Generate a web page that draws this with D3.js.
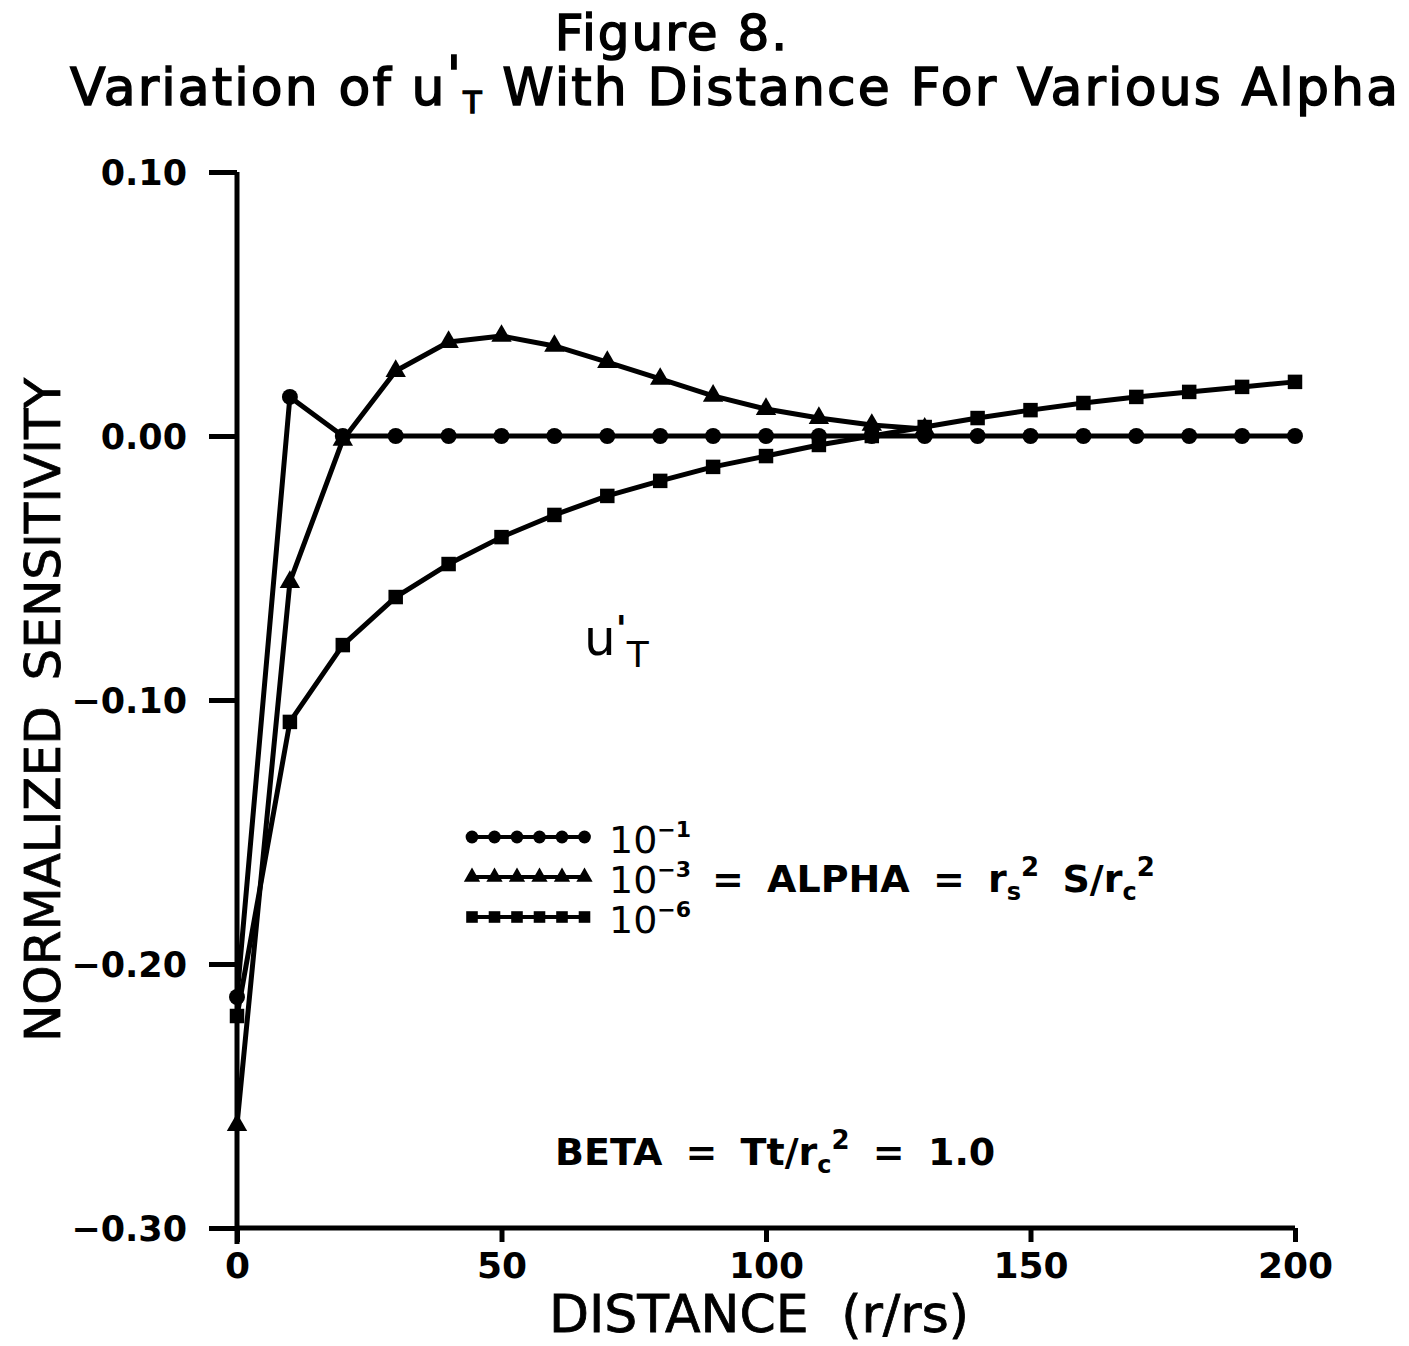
<!DOCTYPE html>
<html>
<head>
<meta charset="utf-8">
<script src="https://cdn.jsdelivr.net/npm/d3@7"></script>
<style>
  body { margin: 0; background: #fff; }
  svg text { font-family: "DejaVu Sans", Verdana, sans-serif; fill: #000; }
</style>
</head>
<body>
<svg width="1409" height="1346"></svg>
<script>
// distance values (r/rs)
let distance = [0, 10, 20, 30, 40, 50, 60, 70, 80, 90, 100, 110, 120, 130, 140, 150, 160, 170, 180, 190, 200];

// alpha = 10^-1
let alpha1 = [-0.2125, 0.0148, 0, 0, 0, 0, 0, 0, 0, 0, 0, 0, 0, 0, 0, 0, 0, 0, 0, 0, 0];
// alpha = 10^-3 (merges into the zero line after 130)
let alpha3 = [-0.261, -0.0553, -0.0015, 0.0246, 0.0356, 0.0379, 0.0341, 0.028, 0.0216, 0.0152, 0.0102, 0.0068, 0.0042, 0.0027];
// alpha = 10^-6
let alpha6 = [-0.2197, -0.1083, -0.0792, -0.061, -0.0485, -0.0383, -0.0299, -0.0227, -0.017, -0.0117, -0.0076, -0.0034, 0.0, 0.0034, 0.0068, 0.0098, 0.0125, 0.0148, 0.0167, 0.0186, 0.0205];

let xTicks = [0, 50, 100, 150, 200];
let yTicks = [0.10, 0.00, -0.10, -0.20, -0.30];

let svg = d3.select('svg');

const xScale = d3.scaleLinear().domain([0, 200]).range([237, 1295]);
const yScale = d3.scaleLinear().domain([-0.30, 0.10]).range([1228, 172]);

// axes
svg.append('g')
  .attr('transform', 'translate(237, 0)')
  .call(d3.axisLeft(yScale).tickValues(yTicks).tickSize(28))
  .call(g => g.select('.domain').attr('d', 'M0,172V1244').attr('stroke-width', 5))
  .call(g => g.selectAll('.tick line').attr('stroke-width', 5))
  .call(g => g.selectAll('.tick text')
    .attr('x', -50).attr('dy', '0.36em')
    .attr('font-size', 35).attr('font-weight', 'bold')
    .attr('font-family', '"DejaVu Sans", sans-serif')
    .text(d => d3.format('.2f')(d).replace('-', '\u2212')));

svg.append('g')
  .attr('transform', 'translate(0, 1228)')
  .call(d3.axisBottom(xScale).tickValues(xTicks).tickSize(14))
  .call(g => g.select('.domain').attr('d', 'M237,0H1295').attr('stroke-width', 5))
  .call(g => g.selectAll('.tick line').attr('stroke-width', 5))
  .call(g => g.selectAll('.tick text')
    .attr('y', 24)
    .attr('font-size', 36).attr('font-weight', 'bold')
    .attr('font-family', '"DejaVu Sans", sans-serif'));

// series
let series = [
  {values: alpha3, shape: 'triangle'},
  {values: alpha6, shape: 'square'},
  {values: alpha1, shape: 'circle'}
];

const symbols = {
  circle: d3.symbol().type(d3.symbolCircle).size(200),
  triangle: d3.symbol().type(d3.symbolTriangle).size(180),
  square: d3.symbol().type(d3.symbolSquare).size(210)
};

const line = d3.line()
  .x(d => xScale(d[0]))
  .y(d => yScale(d[1]));

series.forEach(s => {
  let pts = s.values.map((v, i) => [distance[i], v]);
  svg.append('path')
    .datum(pts)
    .attr('d', line)
    .attr('fill', 'none')
    .attr('stroke', '#000')
    .attr('stroke-width', 5)
    .attr('stroke-linejoin', 'round');
  svg.selectAll(null)
    .data(pts)
    .enter()
    .append('path')
    .attr('d', symbols[s.shape])
    .attr('transform', d => `translate(${xScale(d[0])}, ${yScale(d[1])})`)
    .attr('fill', '#000');
});

// legend
let legendRows = [
  {shape: 'circle', exp: '\u22121', y: 837},
  {shape: 'triangle', exp: '\u22123', y: 877},
  {shape: 'square', exp: '\u22126', y: 917}
];
legendRows.forEach(r => {
  svg.append('line')
    .attr('x1', 470).attr('x2', 585)
    .attr('y1', r.y).attr('y2', r.y)
    .attr('stroke', '#000').attr('stroke-width', 4);
  d3.range(6).forEach(k => {
    svg.append('path')
      .attr('d', symbols[r.shape])
      .attr('fill', '#000')
      .attr('transform', `translate(${472 + k * 22.5}, ${r.y}) scale(0.8)`);
  });
  let t = svg.append('text')
    .attr('x', 609).attr('y', r.y + 16)
    .attr('font-size', 38);
  t.append('tspan').text('10');
  t.append('tspan').attr('dy', -16).attr('font-size', 22).attr('font-weight', 'bold').text(r.exp);
});

let alphaText = svg.append('text')
  .attr('x', 712).attr('y', 892)
  .attr('font-size', 38).attr('font-weight', 'bold')
  .attr('word-spacing', 10);
alphaText.append('tspan').text('=  ALPHA  =  r');
alphaText.append('tspan').attr('dy', 8).attr('font-size', 24).text('s');
alphaText.append('tspan').attr('dy', -24).attr('font-size', 26).text('2');
alphaText.append('tspan').attr('dy', 16).text('  S/r');
alphaText.append('tspan').attr('dy', 8).attr('font-size', 24).text('c');
alphaText.append('tspan').attr('dy', -24).attr('font-size', 26).text('2');

// annotations
let ut = svg.append('text')
  .attr('x', 584).attr('y', 655)
  .attr('font-size', 50);
ut.append('tspan').text('u');
ut.append('tspan').attr('dy', -14).attr('font-size', 36).attr('font-weight', 'bold').text('\'');
ut.append('tspan').attr('dy', 26).attr('font-size', 36).text('T');

let beta = svg.append('text')
  .attr('x', 555).attr('y', 1165)
  .attr('font-size', 38).attr('font-weight', 'bold')
  .attr('word-spacing', 10);
beta.append('tspan').text('BETA  =  Tt/r');
beta.append('tspan').attr('dy', 8).attr('font-size', 24).text('c');
beta.append('tspan').attr('dy', -24).attr('font-size', 26).text('2');
beta.append('tspan').attr('dy', 16).text('  =  1.0');

// titles
svg.append('text')
  .attr('x', 672).attr('y', 50)
  .attr('text-anchor', 'middle')
  .attr('font-size', 50)
  .attr('stroke', '#000').attr('stroke-width', 1.5)
  .attr('letter-spacing', 2)
  .text('Figure  8.');

let title = svg.append('text')
  .attr('x', 70).attr('y', 105)
  .attr('font-size', 52)
  .attr('stroke', '#000').attr('stroke-width', 1.5)
  .attr('textLength', 1328)
  .attr('lengthAdjust', 'spacing');
title.append('tspan').text('Variation  of  u');
title.append('tspan').attr('dy', -12).text('\'');
title.append('tspan').attr('dy', 20).attr('font-size', 30).text('T');
title.append('tspan').attr('dy', -8).text(' With  Distance  For  Various  Alpha');

svg.append('text')
  .attr('x', 759).attr('y', 1332)
  .attr('text-anchor', 'middle')
  .attr('font-size', 52)
  .attr('stroke', '#000').attr('stroke-width', 0.8)
  .attr('word-spacing', 16)
  .text('DISTANCE  (r/rs)');

svg.append('text')
  .attr('transform', 'translate(60, 710) rotate(-90)')
  .attr('text-anchor', 'middle')
  .attr('font-size', 50)
  .attr('stroke', '#000').attr('stroke-width', 0.8)
  .attr('word-spacing', 10)
  .text('NORMALIZED  SENSITIVITY');
</script>
</body>
</html>
